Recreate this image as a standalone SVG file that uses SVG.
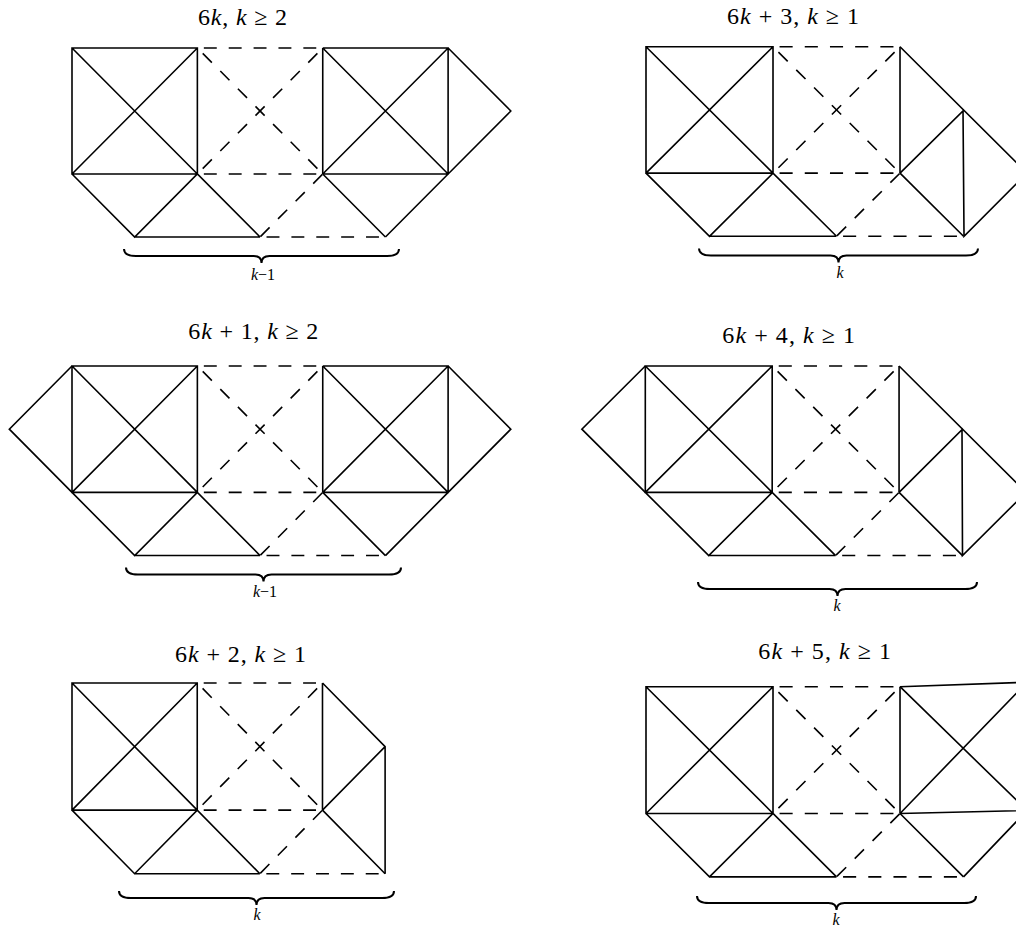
<svg xmlns="http://www.w3.org/2000/svg" width="1016" height="926" viewBox="0 0 1016 926">
<style>
.s{fill:none;stroke:#000;stroke-width:1.6}
.dh{fill:none;stroke:#000;stroke-width:1.6;stroke-dasharray:13 12;stroke-dashoffset:18.5}
.dd{fill:none;stroke:#000;stroke-width:1.6;stroke-dasharray:13 12;stroke-dashoffset:17.4}
.dq{fill:none;stroke:#000;stroke-width:1.6;stroke-dasharray:13 12;stroke-dashoffset:24.45}
.br{fill:none;stroke:#000;stroke-width:2}
.t{font-family:"Liberation Serif","DejaVu Serif",serif;font-size:24px;fill:#000;text-anchor:middle}
.l{font-family:"Liberation Serif","DejaVu Serif",serif;font-size:16px;fill:#000;text-anchor:middle}
.i{font-style:italic}
</style>
<defs>
<g id="core">
<path class="s" d="M0,0H126V126H0ZM0,0L126,126M0,126L126,0M252,0V126M0,126L63,189L126,126L189,189M63,189H189M252,126L315,189"/>
<path class="dh" d="M126,0H252"/>
<path class="dh" d="M126,126H252"/>
<path class="dh" d="M189,189H315"/>
<path class="dd" d="M126,0L252,126"/>
<path class="dd" d="M252,0L126,126"/>
<path class="dq" d="M189,189L252,126"/>
</g>
</defs>
<g id="panel1">
<text class="t" x="242.5" y="25" textLength="89" lengthAdjust="spacing">6<tspan class="i">k</tspan>, <tspan class="i">k</tspan> ≥ 2</text>
<g transform="translate(72,48) scale(0.995,1)">
<use href="#core"/>
<path class="s" d="M252,0H378V126H252M252,0L378,126M252,126L378,0M378,0L441,63L378,126M315,189L378,126"/>
</g>
<path class="br" d="M124,249Q124,256 136,256L253.5,256Q261.5,256 261.5,263Q261.5,256 269.5,256L387,256Q399,256 399,249"/>
<text class="l" x="263" y="280"><tspan class="i">k</tspan>−1</text>
</g>
<g id="panel2">
<text class="t" x="793" y="24" textLength="132" lengthAdjust="spacing">6<tspan class="i">k</tspan> + 3, <tspan class="i">k</tspan> ≥ 1</text>
<g transform="translate(646,46.7) scale(1.008,1.003)">
<use href="#core"/>
<path class="s" d="M252,0L378,126M252,126L314.5,64L315.5,189L378,126"/>
</g>
<path class="br" d="M699,248.5Q699,255.5 711,255.5L830.5,255.5Q838.5,255.5 838.5,262.5Q838.5,255.5 846.5,255.5L966,255.5Q978,255.5 978,248.5"/>
<text class="l" x="840" y="278"><tspan class="i">k</tspan></text>
</g>
<g id="panel3">
<text class="t" x="253.3" y="339.3" textLength="130" lengthAdjust="spacing">6<tspan class="i">k</tspan> + 1, <tspan class="i">k</tspan> ≥ 2</text>
<g transform="translate(72,366) scale(0.995,1.003)">
<use href="#core"/>
<path class="s" d="M252,0H378V126H252M252,0L378,126M252,126L378,0M378,0L441,63L378,126M315,189L378,126M0,0L-63,63L0,126"/>
</g>
<path class="br" d="M126,567.5Q126,574.5 138,574.5L255.5,574.5Q263.5,574.5 263.5,581.5Q263.5,574.5 271.5,574.5L389,574.5Q401,574.5 401,567.5"/>
<text class="l" x="265" y="597"><tspan class="i">k</tspan>−1</text>
</g>
<g id="panel4">
<text class="t" x="788.7" y="343.3" textLength="132.7" lengthAdjust="spacing">6<tspan class="i">k</tspan> + 4, <tspan class="i">k</tspan> ≥ 1</text>
<g transform="translate(645.3,366) scale(1.007,1.003)">
<use href="#core"/>
<path class="s" d="M252,0L378,126M252,126L314.5,63.5L315,189L378,126M0,0L-63,63L0,126"/>
</g>
<path class="br" d="M698,582Q698,589 710,589L829.5,589Q837.5,589 837.5,596Q837.5,589 845.5,589L965,589Q977,589 977,582"/>
<text class="l" x="837" y="611"><tspan class="i">k</tspan></text>
</g>
<g id="panel5">
<text class="t" x="240.5" y="662.3" textLength="131" lengthAdjust="spacing">6<tspan class="i">k</tspan> + 2, <tspan class="i">k</tspan> ≥ 1</text>
<g transform="translate(72,683) scale(0.994,1.009)">
<use href="#core"/>
<path class="s" d="M252,0L315,63V189M252,126L315,63"/>
</g>
<path class="br" d="M119,891Q119,898 131,898L248.5,898Q256.5,898 256.5,905Q256.5,898 264.5,898L382,898Q394,898 394,891"/>
<text class="l" x="257" y="920"><tspan class="i">k</tspan></text>
</g>
<g id="panel6">
<text class="t" x="824.7" y="659.3" textLength="132.7" lengthAdjust="spacing">6<tspan class="i">k</tspan> + 5, <tspan class="i">k</tspan> ≥ 1</text>
<g transform="translate(646,686.7) scale(1.008,1.006)">
<use href="#core"/>
<path class="s" d="M252,0L378,-4.4M252,126L378,123M252,0L378,123M252,126L378,-4.4M315,189L378,123"/>
</g>
<path class="br" d="M697,896Q697,903 709,903L828.5,903Q836.5,903 836.5,910Q836.5,903 844.5,903L964,903Q976,903 976,896"/>
<text class="l" x="836" y="925"><tspan class="i">k</tspan></text>
</g>
</svg>
